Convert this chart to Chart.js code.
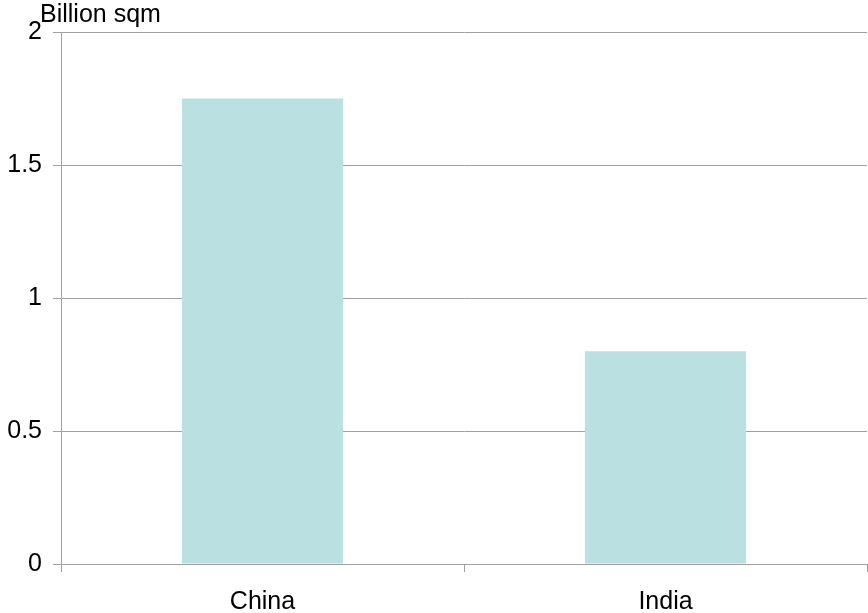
<!DOCTYPE html>
<html>
<head>
<meta charset="utf-8">
<script src="https://cdn.jsdelivr.net/npm/chart.js@4"></script>
<style>
  html, body { margin: 0; padding: 0; background: #fff; }
  #wrap { width: 868px; height: 613px; position: relative; }
</style>
</head>
<body>
<div id="wrap"><canvas id="chart"></canvas></div>
<script>
const categories = ['China', 'India'];
const values = [1.75, 0.8];
const yTicks = [0, 0.5, 1, 1.5, 2];
const unitLabel = 'Billion sqm';

const fontFamily = '"Liberation Sans", Arial, sans-serif';
const lineColor = '#a0a0a0';

// unit text above the y axis
const unitPlugin = {
  id: 'unitLabel',
  afterDraw(chart) {
    const ctx = chart.ctx;
    ctx.save();
    ctx.font = '25px ' + fontFamily;
    ctx.fillStyle = '#000';
    ctx.textBaseline = 'alphabetic';
    ctx.textAlign = 'left';
    ctx.fillText(unitLabel, chart.chartArea.left - 21, 22);
    ctx.restore();
  }
};

new Chart(document.getElementById('chart'), {
  type: 'bar',
  data: {
    labels: categories,
    datasets: [{
      data: values,
      backgroundColor: '#bae0e2',
      borderWidth: 0,
      barPercentage: 0.4,
      categoryPercentage: 1
    }]
  },
  options: {
    responsive: true,
    maintainAspectRatio: false,
    animation: false,
    layout: { padding: { top: 32, right: 1, left: 0, bottom: 0 } },
    plugins: {
      legend: { display: false },
      tooltip: { enabled: false }
    },
    scales: {
      x: {
        grid: {
          display: true,
          drawOnChartArea: false,
          drawTicks: true,
          tickLength: 8,
          color: lineColor,
          offset: true
        },
        border: { color: lineColor },
        ticks: {
          color: '#000',
          font: { family: fontFamily, size: 25 },
          padding: 15
        },
        afterFit(scale) { scale.height = 49; }
      },
      y: {
        min: 0,
        max: 2,
        afterBuildTicks(scale) {
          scale.ticks = yTicks.map(v => ({ value: v }));
        },
        grid: {
          color: lineColor,
          tickLength: 8
        },
        border: { color: lineColor },
        ticks: {
          color: '#000',
          font: { family: fontFamily, size: 25 },
          padding: 11,
          callback: v => String(v)
        },
        afterFit(scale) { scale.width = 61; }
      }
    }
  },
  plugins: [unitPlugin]
});
</script>
</body>
</html>
